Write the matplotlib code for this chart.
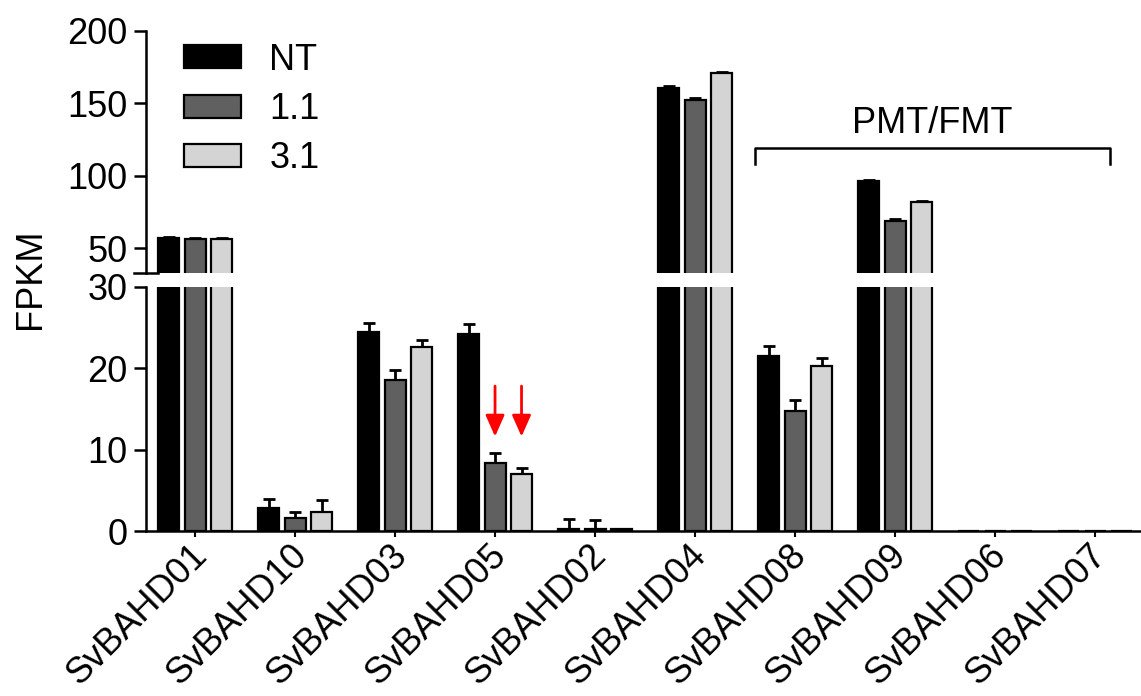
import numpy as np
import matplotlib.pyplot as plt
import matplotlib.transforms as mtransforms

plt.rcParams['font.family'] = ['Liberation Sans', 'DejaVu Sans']

genes = ["SvBAHD01", "SvBAHD10", "SvBAHD03", "SvBAHD05", "SvBAHD02",
         "SvBAHD04", "SvBAHD08", "SvBAHD09", "SvBAHD06", "SvBAHD07"]
nt = [57.0, 2.8, 24.4, 24.2, 0.3, 160.5, 21.5, 96.0, 0.0, 0.0]
l11 = [56.5, 1.6, 18.6, 8.4, 0.2, 152.5, 14.8, 69.0, 0.0, 0.0]
l31 = [56.5, 2.3, 22.6, 7.0, 0.2, 171.0, 20.3, 82.0, 0.0, 0.0]
nt_err = [1.0, 1.1, 1.2, 1.2, 1.2, 1.0, 1.2, 1.0, 0.0, 0.0]
l11_err = [0.8, 0.7, 1.2, 1.2, 1.2, 0.8, 1.3, 0.8, 0.0, 0.0]
l31_err = [0.8, 1.5, 0.9, 0.7, 0.0, 0.8, 0.9, 0.8, 0.0, 0.0]
labels = ["NT", "1.1", "3.1"]
colors = ["#000000", "#606060", "#d4d4d4"]

fig = plt.figure(figsize=(11.41, 6.96), dpi=100)
ax_top = fig.add_axes([0.128, 0.608, 0.872, 0.348])
ax_bot = fig.add_axes([0.128, 0.237, 0.872, 0.351])

x = np.arange(len(genes))
w = 0.21
off = 0.265
series = [(nt, nt_err), (l11, l11_err), (l31, l31_err)]
for ax in (ax_top, ax_bot):
    for i, (vals, errs) in enumerate(series):
        pos = x + (i - 1) * off
        ax.bar(pos, vals, w, color=colors[i], edgecolor="black", linewidth=1.6,
               label=labels[i], zorder=2)
        ax.errorbar(pos, vals, yerr=[np.zeros(len(errs)), errs], fmt="none",
                    ecolor="black", elinewidth=2, capsize=4.5, capthick=2, zorder=1)
    ax.set_xlim(-0.49, 9.46)
    for s in ("top", "right"):
        ax.spines[s].set_visible(False)
    ax.spines["left"].set_linewidth(1.8)
    ax.tick_params(axis="y", labelsize=26, width=1.8, length=9, pad=4.5)

ax_top.set_ylim(33, 200)
ax_top.set_yticks([50, 100, 150, 200])
ax_top.spines["bottom"].set_visible(False)
ax_top.set_xticks([])
# break mark on upper axis
ax_top.plot([-0.012, 0.012], [0, 0], transform=ax_top.transAxes, color="black",
            lw=1.8, clip_on=False)

ax_bot.set_ylim(0, 30)
ax_bot.set_yticks([0, 10, 20, 30])
ax_bot.spines["bottom"].set_linewidth(1.8)
ax_bot.set_xticks(x)
ax_bot.tick_params(axis="x", length=4, width=1.5)
ax_bot.set_xticklabels(genes, rotation=45, ha="right", rotation_mode="anchor", fontsize=26)
shift = mtransforms.ScaledTranslation(-0.06, 0.04, fig.dpi_scale_trans)
for t in ax_bot.get_xticklabels():
    t.set_transform(t.get_transform() + shift)

fig.text(0.027, 0.6, "FPKM", rotation=90, fontsize=26, va="center", ha="center")

# legend
ax_top.legend(loc="upper left", bbox_to_anchor=(0.005, 1.085), frameon=False, fontsize=26,
              handlelength=1.58, handleheight=0.61, labelspacing=0.4, handletextpad=0.8)

# bracket
bx0, bx1, by, bdrop = 5.6, 9.15, 119, 11
ax_top.plot([bx0, bx0, bx1, bx1], [by - bdrop, by, by, by - bdrop], color="black",
            lw=1.8, clip_on=False)
ax_top.text((bx0 + bx1) / 2, by + 5, "PMT/FMT", ha="center", va="bottom", fontsize=26)

# red arrows
for xa in (3, 3 + off):
    ax_bot.annotate("", xy=(xa, 11.6), xytext=(xa, 17.8),
                    arrowprops=dict(arrowstyle="-|>,head_width=0.23,head_length=0.52",
                                    color="red", lw=2, mutation_scale=25,
                                    shrinkA=0, shrinkB=0))

fig.savefig("out.png", dpi=100)
